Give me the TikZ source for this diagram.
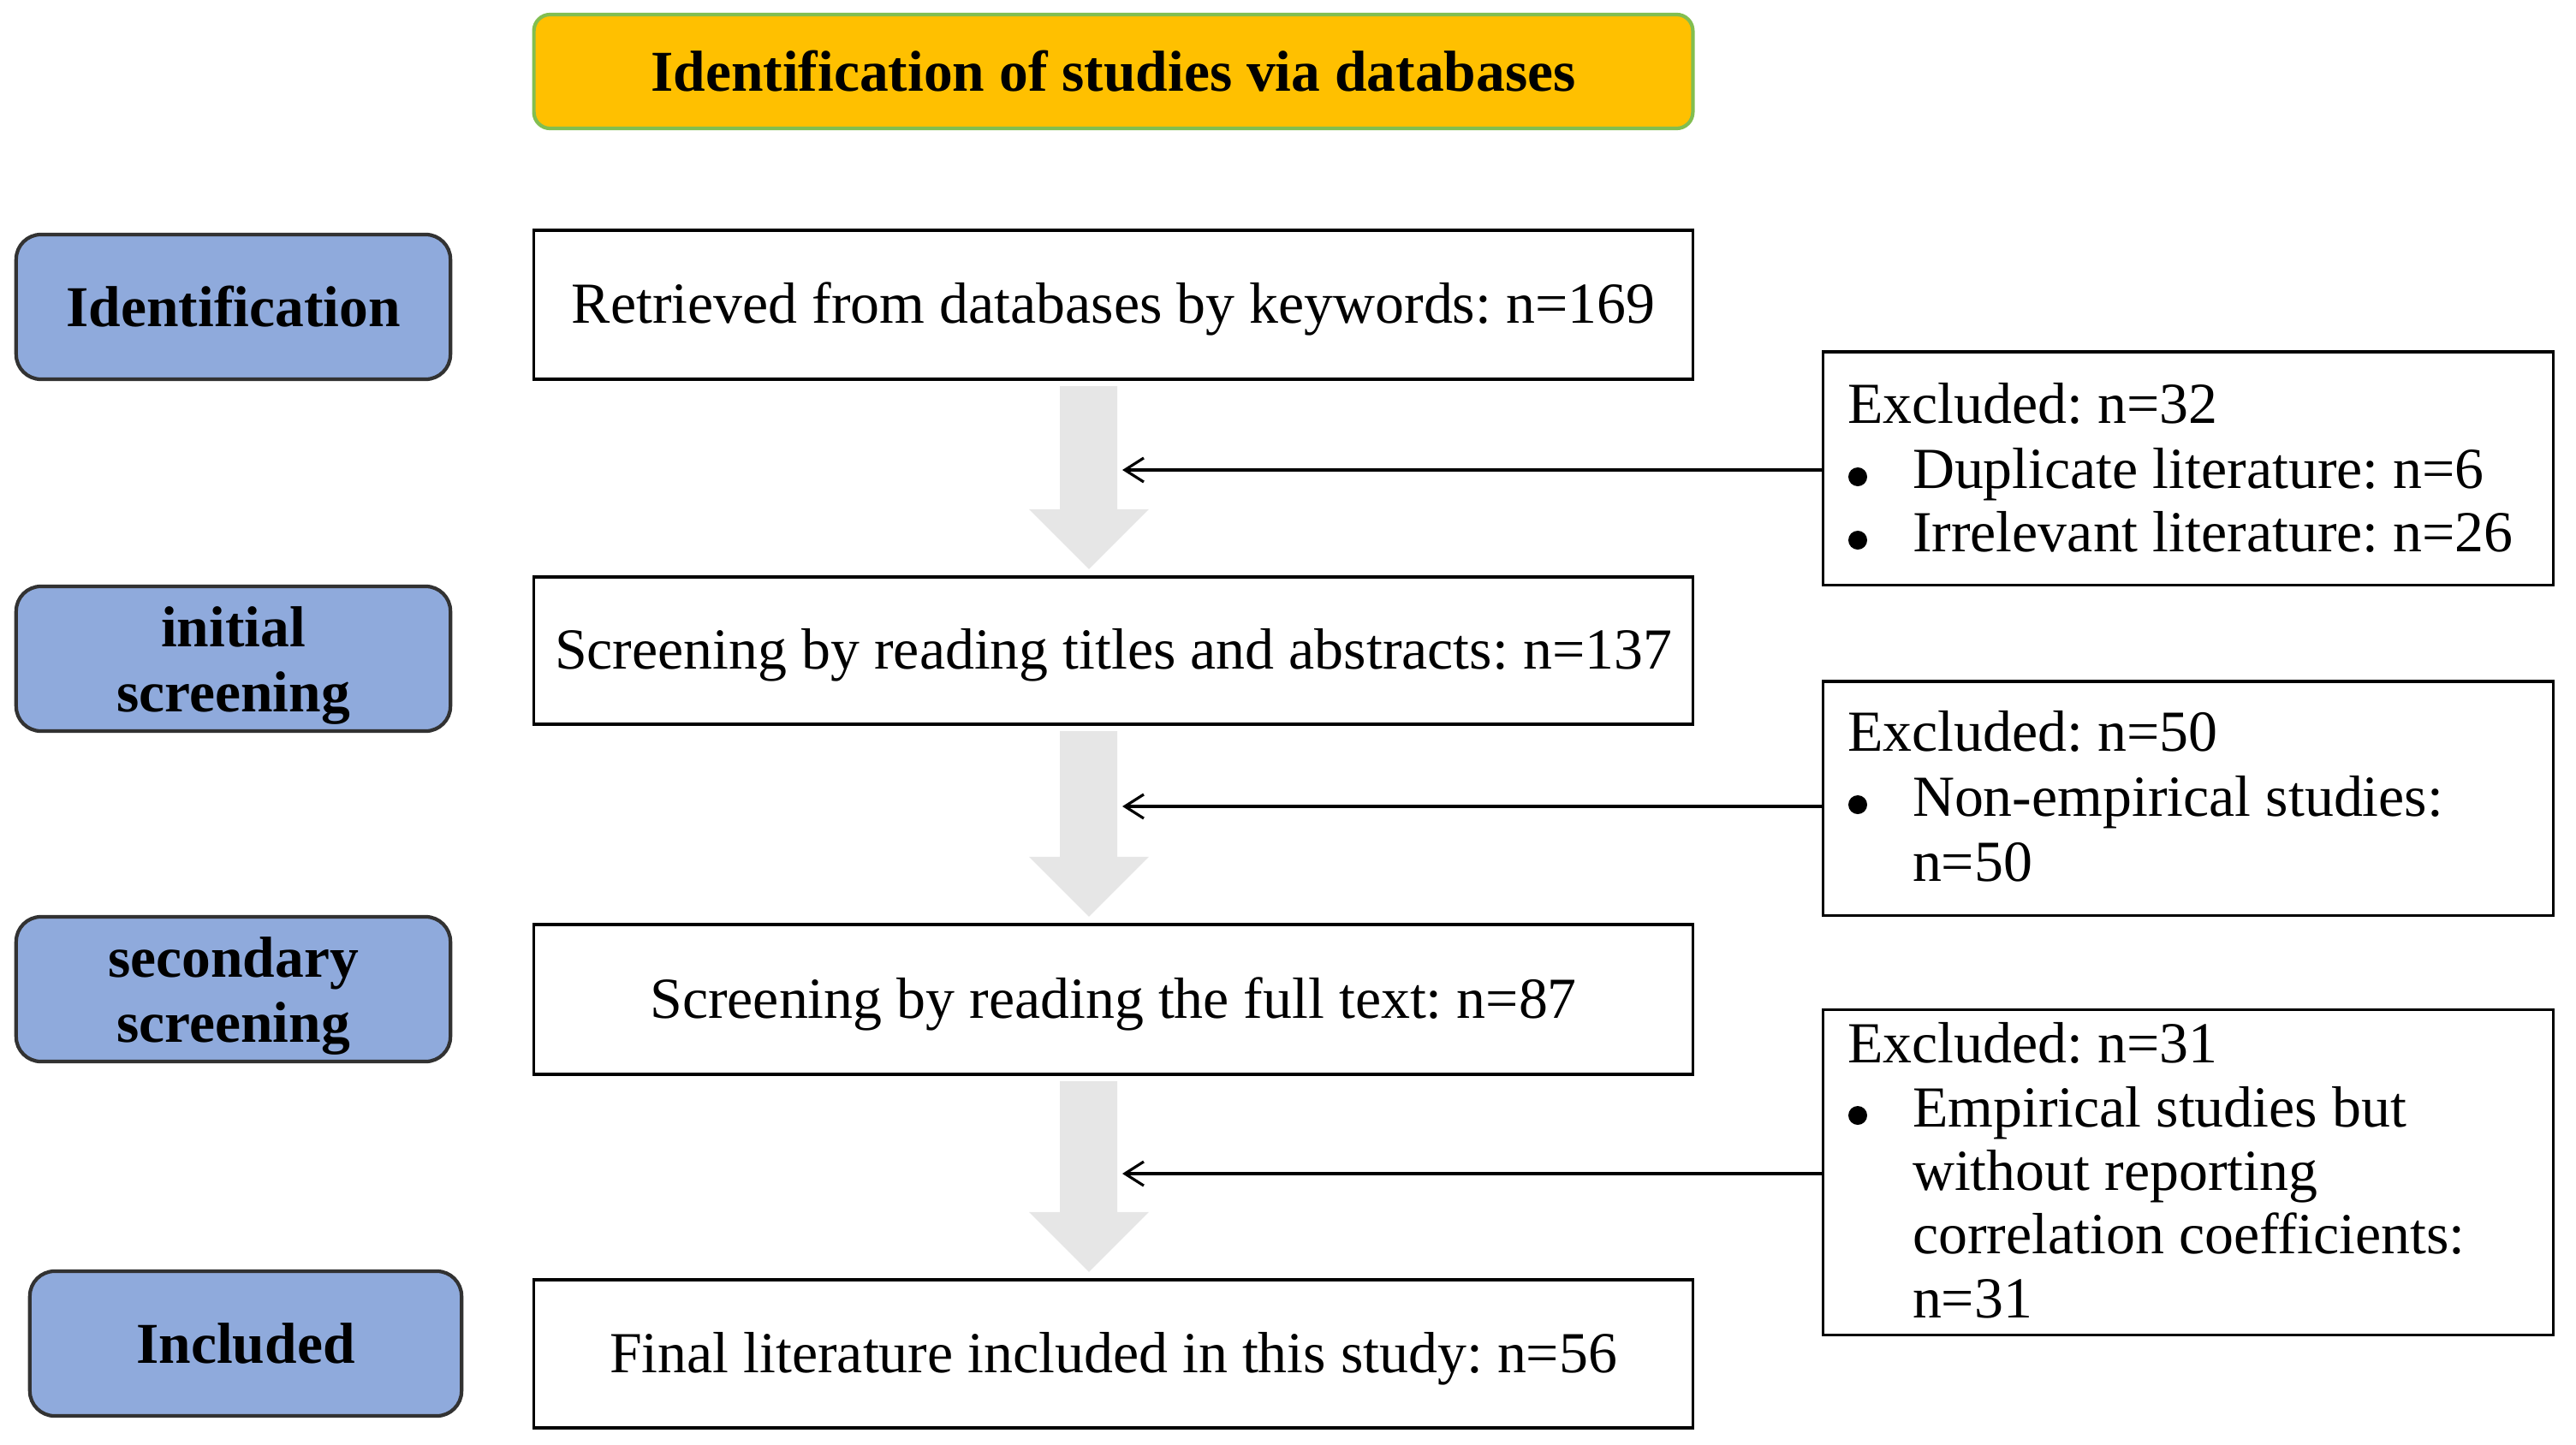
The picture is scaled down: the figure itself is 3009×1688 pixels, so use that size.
\documentclass[tikz,border=0pt]{standalone}
\usepackage{fontspec}
\setmainfont{Liberation Serif}
\usetikzlibrary{arrows.meta,calc}
\frenchspacing
\definecolor{hdrfill}{RGB}{255,192,0}
\definecolor{hdrline}{RGB}{130,190,80}
\definecolor{stagefill}{RGB}{143,170,220}
\definecolor{stageline}{RGB}{50,50,50}
\definecolor{flowgray}{RGB}{230,230,230}
\tikzset{
 every node/.style={inner sep=0pt, outer sep=0pt},
 txt/.style={font=\fontsize{19.3}{21.5}\selectfont},
 hdr/.style={draw=hdrline, line width=1.2pt, fill=hdrfill, rounded corners=0.19cm,
   minimum width=13.53cm, minimum height=1.33cm, font=\fontsize{19.2}{21.5}\selectfont\bfseries},
 stage/.style={draw=stageline, line width=1.2pt, fill=stagefill, rounded corners=0.29cm,
   minimum width=5.07cm, minimum height=1.69cm, align=center, font=\fontsize{19.2}{21.5}\selectfont\bfseries},
 stagetext/.style={align=center, font=\fontsize{19.2}{21.5}\selectfont\bfseries},
 flowbox/.style={draw=black, line width=0.9pt, minimum width=13.53cm, txt, text height=16.6pt, text depth=4.2pt},
 exbox/.style={draw=black, line width=0.9pt, minimum width=8.52cm},
 exline/.style={txt, anchor=base west},
 dot/.style={circle, fill=black, minimum size=0.22cm},
 feed/.style={draw=black, line width=0.9pt, -{Straight Barb[length=0.22cm,width=0.28cm,line width=0.9pt]}},
}
\newcommand{\flowdown}[2]{%
 \fill[flowgray] ($(#1.south)+(-62.5,8)$) -- ($(#1.south)+(4.5,8)$)
   -- ($(#2.north)+(4.5,-79)$) -- ($(#2.north)+(41.5,-79)$)
   -- ($(#2.north)+(-28.5,-9)$) -- ($(#2.north)+(-98.5,-79)$)
   -- ($(#2.north)+(-62.5,-79)$) -- cycle;}
\begin{document}
\begin{tikzpicture}[x=0.01cm,y=-0.01cm]
\useasboundingbox (0,0) rectangle (3009,1688);

% header
\node[hdr] (head) at (1300.5,83.5) {Identification of studies via databases};

% stage labels
\node[stage] (s1) at (272.5,358.5) {Identification};
\node[stage] (s2) at (272.5,769.5) {};
\node[stagetext] (s2t) at ($(s2.center)+(0,8)$) {initial\\screening};
\node[stage] (s3) at (272.5,1155.5) {};
\node[stagetext] (s3t) at ($(s3.center)+(0,8)$) {secondary\\screening};
\node[stage, minimum width=5.04cm] (s4) at (287,1569.5) {Included};

% main flow boxes
\node[flowbox, minimum height=1.74cm] (b1) at (1300.5,356) {Retrieved from databases by keywords: n=169};
\node[flowbox, minimum height=1.72cm] (b2) at (1300.5,760) {Screening by reading titles and abstracts: n=137};
\node[flowbox, minimum height=1.75cm] (b3) at (1300.5,1167.5) {Screening by reading the full text: n=87};
\node[flowbox, minimum height=1.73cm] (b4) at (1300.5,1581.5) {Final literature included in this study: n=56};

% block arrows
\flowdown{b1}{b2}
\flowdown{b2}{b3}
\flowdown{b3}{b4}

% exclusion boxes
\node[exbox, minimum height=2.72cm] (ex1) at (2556,547) {};
\node[exbox, minimum height=2.73cm] (ex2) at (2556,932.5) {};
\node[exbox, minimum height=3.79cm] (ex3) at (2556,1369.5) {};

\node[exline] (e1a) at (2158,494) {Excluded: n=32};
\node[dot] (d1b) at (2170,557) {};
\node[exline] (e1b) at (2234,570) {Duplicate literature: n=6};
\node[dot] (d1c) at (2170,631) {};
\node[exline] (e1c) at (2234,644) {Irrelevant literature: n=26};

\node[exline] (e2a) at (2158,877) {Excluded: n=50};
\node[dot] (d2b) at (2170,940) {};
\node[exline] (e2b) at (2234,953) {Non-empirical studies:};
\node[exline] (e2c) at (2234,1029) {n=50};

\node[exline] (e3a) at (2158,1241) {Excluded: n=31};
\node[dot] (d3b) at (2170,1303) {};
\node[exline] (e3b) at (2234,1316) {Empirical studies but};
\node[exline] (e3c) at (2234,1390) {without reporting};
\node[exline] (e3d) at (2234,1464) {correlation coefficients:};
\node[exline] (e3e) at (2234,1539) {n=31};

% feedback arrows
\coordinate (t1) at (1311,549);
\coordinate (t2) at (1311,942);
\coordinate (t3) at (1311,1371);
\draw[feed] (ex1.west |- t1) -- (t1);
\draw[feed] (ex2.west |- t2) -- (t2);
\draw[feed] (ex3.west |- t3) -- (t3);
\end{tikzpicture}
\end{document}
